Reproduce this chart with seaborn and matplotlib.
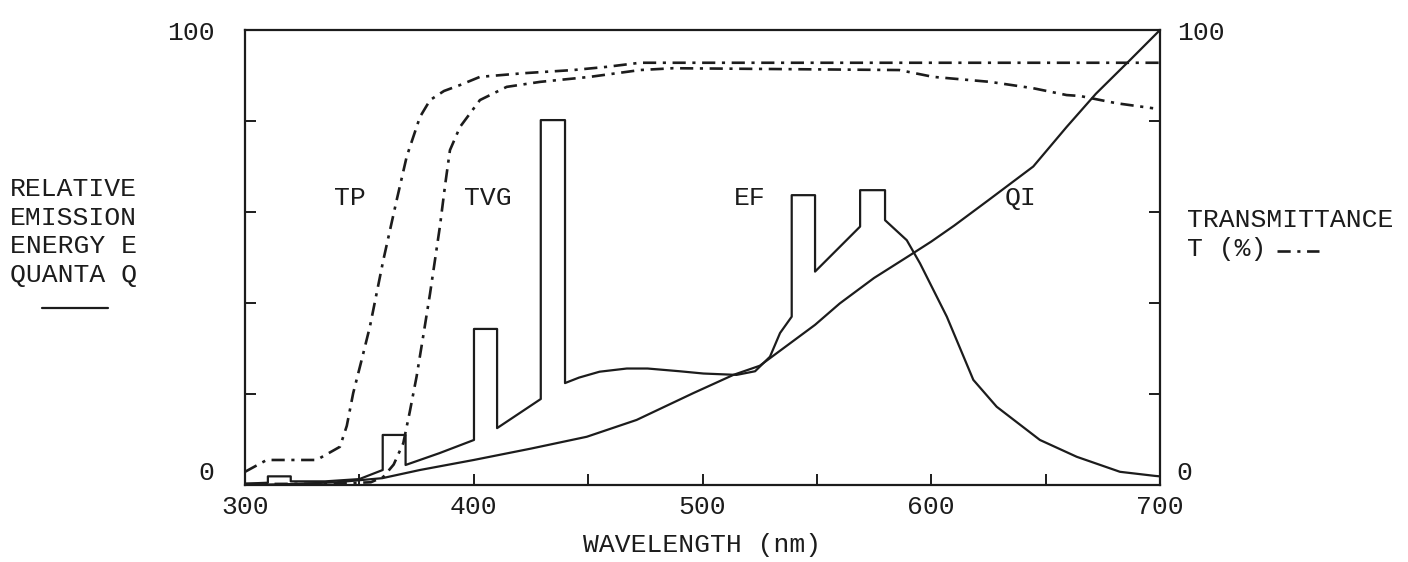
import numpy as np
import pandas as pd
import matplotlib
matplotlib.use("Agg")
import matplotlib.pyplot as plt
from matplotlib.lines import Line2D
from matplotlib.transforms import ScaledTranslation
import seaborn as sns

# ---- data (wavelength nm, relative value) ----
ef_x = [300, 310, 310, 320, 320, 335, 350, 360.2, 360.2, 370.2, 370.2, 385, 400.1, 400.1,
        410.2, 410.2, 429.3, 429.3, 439.9, 439.9, 446, 455, 466.9, 476, 490, 500.4, 514.9,
        523, 529.5, 533.9, 539, 539, 549.2, 549.2, 568.9, 568.9, 579.8, 579.8, 589.3,
        595.1, 606.8, 618.4, 628.6, 647.5, 663.6, 682.5, 697.8, 700]
ef_y = [0.3, 0.5, 1.9, 1.9, 0.8, 0.8, 1.3, 3.3, 11.0, 11.0, 4.4, 7.0, 9.9, 34.3,
        34.3, 12.5, 18.9, 80.2, 80.2, 22.4, 23.6, 24.9, 25.6, 25.6, 25.0, 24.5, 24.2,
        25.0, 28.2, 33.4, 37.0, 63.7, 63.7, 46.9, 56.8, 64.8, 64.8, 58.2, 53.8,
        48.7, 37.0, 23.1, 17.2, 9.9, 6.2, 2.9, 2.0, 1.9]

qi_x = [300, 320, 340, 360, 376.5, 400, 425, 449.4, 471.2, 496, 513.5, 525, 549.2, 560,
        575, 590.7, 600, 610, 625, 644.6, 659.2, 672, 686.9, 700]
qi_y = [0.0, 0.2, 0.6, 1.5, 3.3, 5.5, 8.0, 10.6, 14.3, 20.2, 24.2, 26.2, 35.2, 39.9,
        45.5, 50.5, 53.5, 57.0, 62.6, 70.0, 78.7, 86.0, 93.4, 100.0]

tp_x = [300, 309.5, 331.3, 341.5, 344.5, 347.3, 351, 354.6, 360.5, 366.3, 370.7, 376.5,
        380.9, 387, 394, 402.7, 421.7, 443.5, 458.1, 472.7, 500, 600, 700]
tp_y = [2.9, 5.5, 5.5, 8.4, 13.0, 20.2, 27.5, 34.8, 49.5, 62.6, 72.2, 80.9,
        84.6, 86.6, 87.9, 89.7, 90.5, 91.2, 91.9, 92.8, 92.8, 92.8, 92.8]

tvg_x = [300, 340, 355, 360.5, 365, 369.2, 372, 375, 378, 380.9, 385.2, 387.5, 389.6,
         394, 402.7, 414.4, 429, 450.8, 472.7, 487.2, 586, 600.8, 625.7, 644.6, 659.2,
         665, 681, 697]
tvg_y = [0.2, 0.3, 0.6, 1.8, 4.5, 9.2, 16.0, 23.8, 33.0, 42.1, 56.8, 66.0, 73.6,
         78.7, 84.6, 87.5, 88.6, 89.7, 91.2, 91.6, 91.2, 89.7, 88.6, 87.2, 85.7,
         85.5, 83.9, 82.8]

curve_labels = ["TP", "TVG", "EF", "QI"]
label_x = [345.9, 406.2, 520.8, 638.8]
label_y = [63.1, 63.1, 63.1, 63.1]

x_ticks = [300, 350, 400, 450, 500, 550, 600, 650, 700]
x_ticklabels = ["300", "", "400", "", "500", "", "600", "", "700"]
y_ticks = [0, 20, 40, 60, 80, 100]
y_ticklabels = ["0", "", "", "", "", "100"]

# ---- style ----
sns.set_theme(style="ticks")
plt.rcParams['font.family'] = ['Liberation Mono', 'DejaVu Sans']
INK = "#1c1c1c"
DASHDOT = (0, (5, 2.5, 1.2, 2.5))
FS = 19

fig = plt.figure(figsize=(14.08, 5.62), dpi=100)
fig.patch.set_facecolor("white")
ax = fig.add_axes([245/1408, 1 - 485/562, 915/1408, 455/562])
ax.set_facecolor("white")

for xs, ys in [(ef_x, ef_y), (qi_x, qi_y)]:
    sns.lineplot(x=xs, y=ys, ax=ax, estimator=None, sort=False,
                 color=INK, linewidth=1.6)
for xs, ys in [(tp_x, tp_y), (tvg_x, tvg_y)]:
    sns.lineplot(x=xs, y=ys, ax=ax, estimator=None, sort=False,
                 color=INK, linewidth=1.9, linestyle=DASHDOT)

for t, lx, ly in zip(curve_labels, label_x, label_y):
    ax.text(lx, ly, t, ha="center", va="center", fontsize=FS, color=INK)

ax.set_xlim(300, 700)
ax.set_ylim(0, 100)
ax.set_xticks(x_ticks)
ax.set_xticklabels(x_ticklabels)
ax.set_yticks(y_ticks)
ax.set_yticklabels(y_ticklabels)
ax.set_xlabel("WAVELENGTH (nm)", fontsize=FS, color=INK, labelpad=10)
ax.set_ylabel("")
ax.tick_params(axis="both", direction="in", length=8, width=1.4, colors=INK,
               labelsize=FS, labelcolor=INK)
ax.tick_params(axis="y", pad=22, left=True, right=False)
ax.tick_params(axis="x", pad=7, bottom=True, top=False)
for s in ax.spines.values():
    s.set_visible(True)
    s.set_linewidth(1.6)
    s.set_color(INK)

ax2 = ax.twinx()
ax2.set_ylim(0, 100)
ax2.set_yticks(y_ticks)
ax2.set_yticklabels(y_ticklabels)
ax2.tick_params(axis="y", direction="in", length=8, width=1.4, colors=INK,
                labelsize=FS, labelcolor=INK, pad=12, right=True, left=False)
for s in ax2.spines.values():
    s.set_visible(False)

# raise the "0" labels slightly, as in the original
shift = ScaledTranslation(0, 15/100, fig.dpi_scale_trans)
for lab in list(ax.get_yticklabels()) + list(ax2.get_yticklabels()):
    if lab.get_text() == "0":
        lab.set_transform(lab.get_transform() + shift)

# left axis caption
fig.text(10/1408, 1 - 177/562, "RELATIVE\nEMISSION\nENERGY E\nQUANTA Q",
         ha="left", va="top", fontsize=FS, color=INK, linespacing=1.24)
fig.add_artist(Line2D([42/1408, 108/1408], [1 - 308/562, 1 - 308/562],
                      color=INK, linewidth=1.6))
# right axis caption
fig.text(1187/1408, 1 - 208/562, "TRANSMITTANCE\nT (%)",
         ha="left", va="top", fontsize=FS, color=INK, linespacing=1.25)
fig.add_artist(Line2D([1277/1408, 1319/1408], [1 - 251/562, 1 - 251/562],
                      color=INK, linewidth=1.9, linestyle=DASHDOT))

fig.savefig("out.png", dpi=100, facecolor="white")
